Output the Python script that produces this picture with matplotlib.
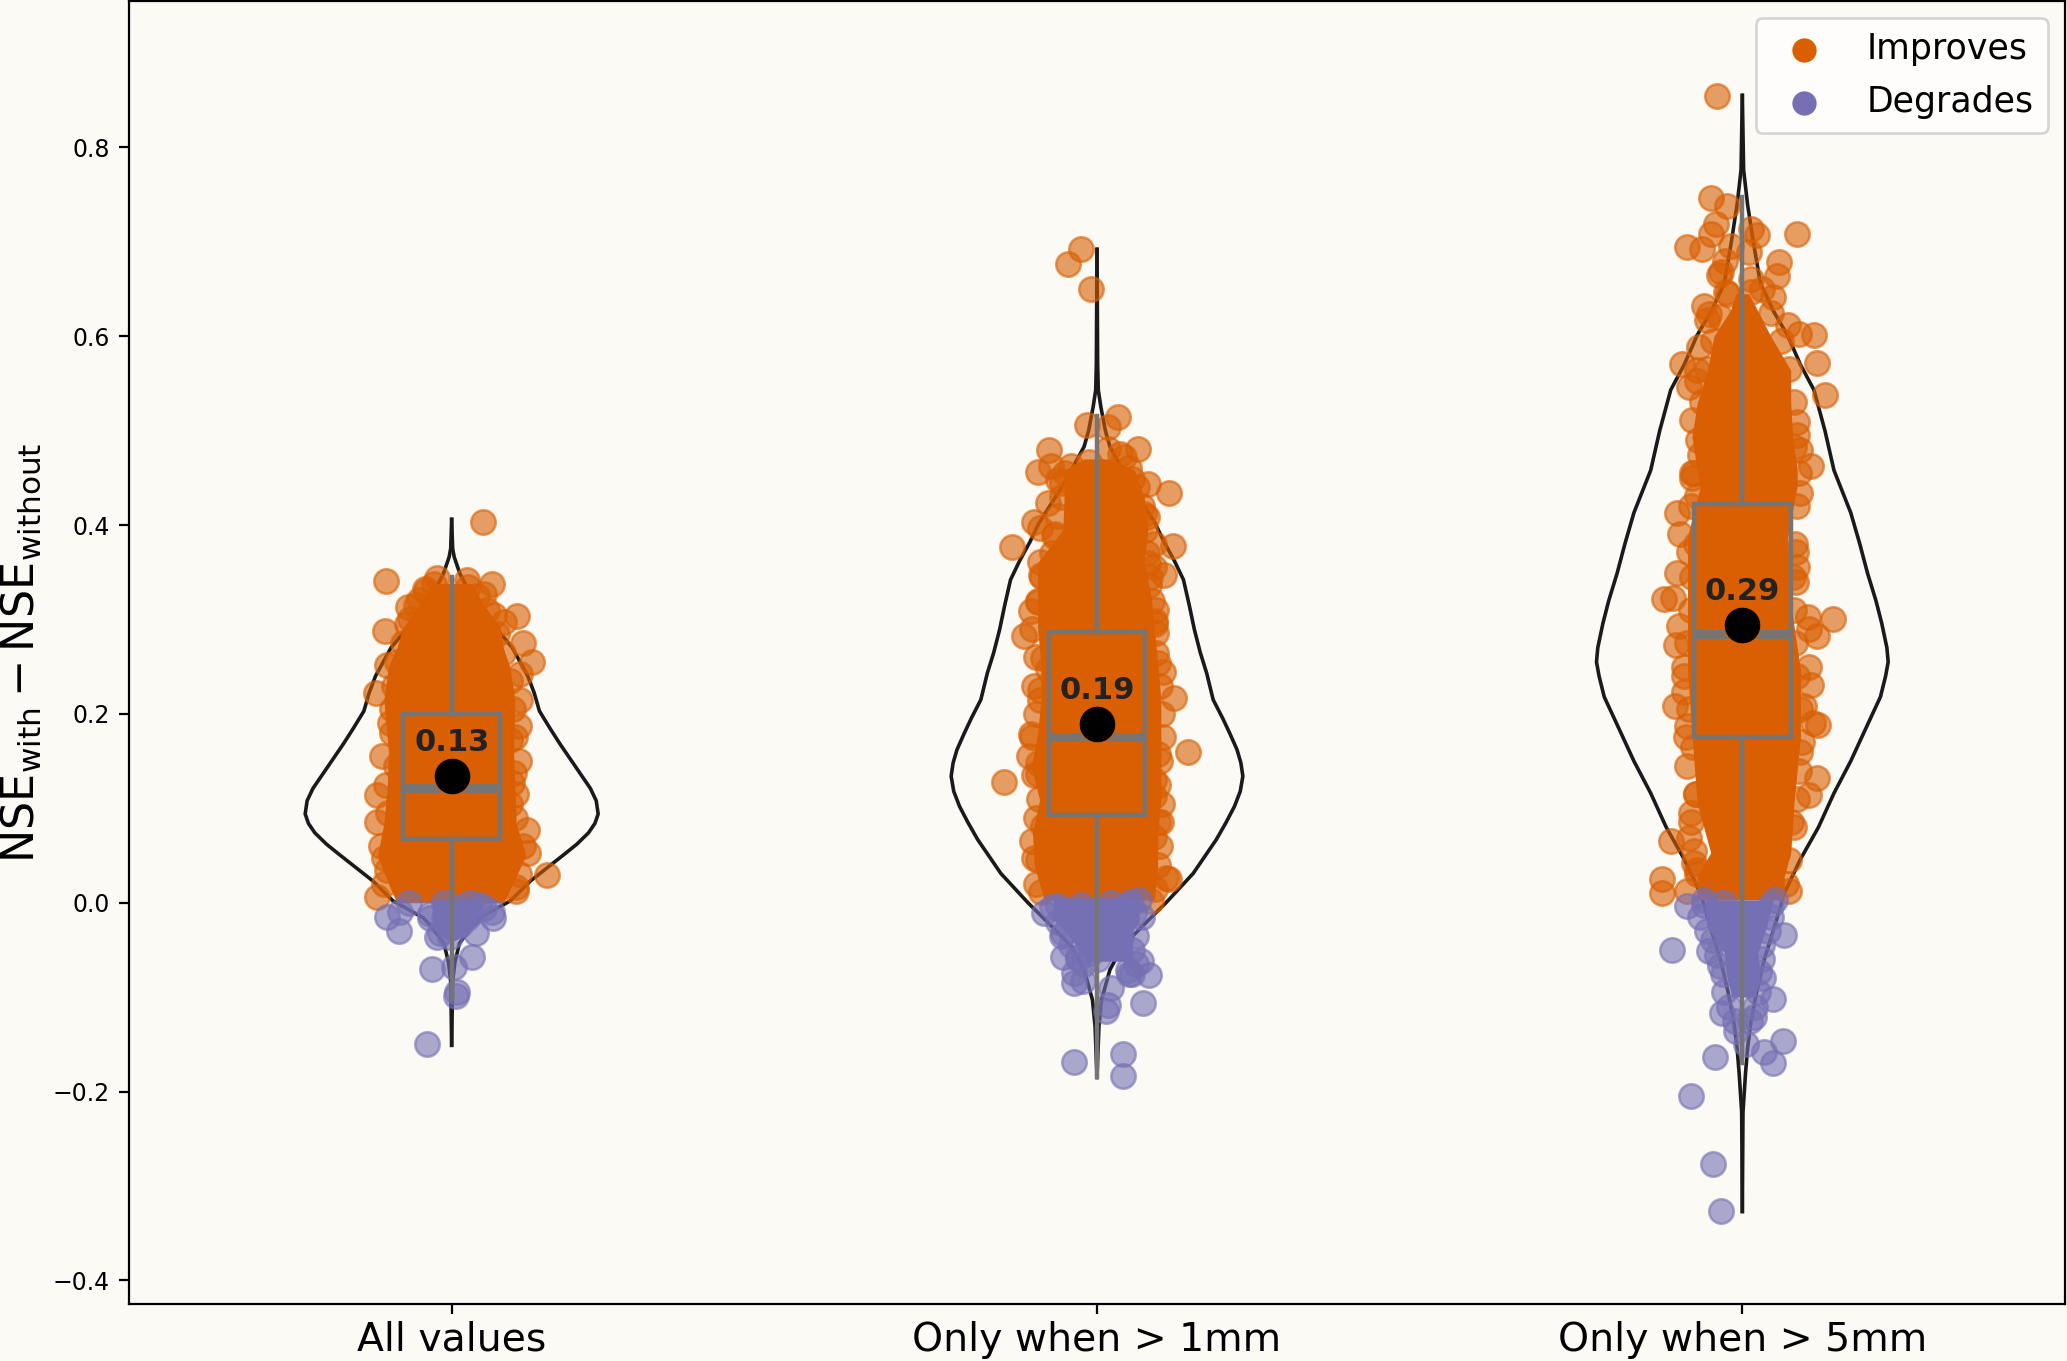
import matplotlib
matplotlib.use('Agg')
import matplotlib.pyplot as plt
import numpy as np

labels = ['All values', 'Only when > 1mm', 'Only when > 5mm']
means = [0.134, 0.189, 0.294]
mean_text = ['0.13', '0.19', '0.29']
q1 = [0.068, 0.093, 0.175]
medians = [0.122, 0.175, 0.285]
q3 = [0.200, 0.287, 0.422]
whisker_low = [-0.102, -0.185, -0.170]
whisker_high = [0.345, 0.515, 0.747]

# violin outlines: value and half width
violin1_y = [0.406, 0.375, 0.366, 0.348, 0.329, 0.309, 0.270, 0.240, 0.222, 0.203, 0.184, 0.168, 0.152, 0.136, 0.121,
             0.108, 0.094, 0.084, 0.074, 0.062, 0.051, 0.023, 0.002, -0.016, -0.024, -0.043, -0.063, -0.083, -0.151]
violin1_w = [0.0, 0.0015, 0.004, 0.013, 0.028, 0.047, 0.094, 0.118, 0.128, 0.136, 0.153, 0.168, 0.184, 0.200, 0.215,
             0.224, 0.227, 0.222, 0.212, 0.194, 0.174, 0.122, 0.091, 0.044, 0.033, 0.012, 0.005, 0.0015, 0.0]
violin2_y = [0.692, 0.571, 0.543, 0.525, 0.500, 0.483, 0.444, 0.402, 0.382, 0.362, 0.342, 0.315, 0.289, 0.265, 0.243, 0.215,
             0.195, 0.179, 0.162, 0.148, 0.134, 0.118, 0.102, 0.085, 0.067, 0.031, 0.000, -0.021, -0.046, -0.071, -0.103, -0.131, -0.185]
violin2_w = [0.0, 0.001, 0.002, 0.006, 0.013, 0.020, 0.051, 0.090, 0.104, 0.120, 0.134, 0.143, 0.151, 0.160, 0.170, 0.180,
             0.195, 0.206, 0.217, 0.223, 0.226, 0.222, 0.213, 0.200, 0.185, 0.149, 0.107, 0.076, 0.040, 0.020, 0.007, 0.003, 0.0]
violin3_y = [0.855, 0.776, 0.740, 0.700, 0.656, 0.628, 0.601, 0.570, 0.543, 0.500, 0.458, 0.413, 0.380, 0.349, 0.320, 0.296,
             0.270, 0.255, 0.240, 0.218, 0.190, 0.150, 0.116, 0.080, 0.046, 0.010, -0.025, -0.060, -0.095, -0.127, -0.155, -0.180, -0.222, -0.327]
violin3_w = [0.0, 0.002, 0.008, 0.017, 0.028, 0.047, 0.070, 0.090, 0.111, 0.128, 0.142, 0.168, 0.182, 0.194, 0.207, 0.216,
             0.224, 0.226, 0.222, 0.214, 0.195, 0.168, 0.142, 0.118, 0.090, 0.065, 0.050, 0.034, 0.022, 0.013, 0.008, 0.005, 0.001, 0.0]

# the middle of each cloud is saturated so single dots cant be read there,
# so these are the outlines of the solid part
core1_y = [0.338, 0.315, 0.292, 0.270, 0.250, 0.215, 0.160, 0.121, 0.084, 0.050, 0.015, 0.000]
core1_l = [-0.030, -0.050, -0.075, -0.085, -0.098, -0.105, -0.098, -0.100, -0.105, -0.115, -0.095, -0.085]
core1_r = [0.030, 0.050, 0.075, 0.080, 0.090, 0.098, 0.096, 0.098, 0.100, 0.115, 0.091, 0.081]
core2_y = [0.470, 0.458, 0.430, 0.395, 0.360, 0.324, 0.289, 0.254, 0.215, 0.179, 0.144, 0.109, 0.074, 0.039, 0.003]
core2_l = [-0.020, -0.051, -0.051, -0.053, -0.092, -0.092, -0.092, -0.087, -0.087, -0.092, -0.102, -0.089, -0.100, -0.097, -0.082]
core2_r = [0.020, 0.058, 0.073, 0.079, 0.073, 0.084, 0.089, 0.094, 0.099, 0.099, 0.099, 0.099, 0.094, 0.094, 0.089]
core3_y = [0.645, 0.628, 0.600, 0.564, 0.529, 0.493, 0.458, 0.441, 0.388, 0.317, 0.247, 0.176, 0.105, 0.053, 0.028, 0.003]
core3_l = [-0.010, -0.018, -0.044, -0.054, -0.070, -0.078, -0.070, -0.065, -0.085, -0.085, -0.085, -0.078, -0.070, -0.049, -0.070, -0.070]
core3_r = [0.010, 0.023, 0.044, 0.075, 0.075, 0.078, 0.085, 0.085, 0.070, 0.075, 0.090, 0.090, 0.080, 0.075, 0.065, 0.065]

low1_y = [0.003, -0.015, -0.032, -0.040]
low1_l = [-0.030, -0.030, -0.020, -0.005]
low1_r = [0.048, 0.040, 0.028, 0.005]
low2_y = [0.005, -0.018, -0.032, -0.052, -0.062]
low2_l = [-0.068, -0.068, -0.046, -0.026, -0.009]
low2_r = [0.062, 0.066, 0.054, 0.056, 0.056]
low3_y = [0.003, -0.025, -0.053, -0.078, -0.100]
low3_l = [-0.058, -0.055, -0.028, -0.024, -0.016]
low3_r = [0.048, 0.038, 0.024, 0.028, 0.020]

improves1_x = [0.049, -0.101, -0.103, -0.023, 0.024, 0.063, -0.028, -0.041, 0.026, 0.050, -0.051, -0.067, 0.065,
               0.081, 0.101, 0.110, 0.125, -0.069, -0.100, 0.106, -0.118, 0.106, -0.093, 0.104, -0.093, 0.091,
               -0.087, 0.096, -0.116, 0.094, 0.091, -0.115, 0.116, 0.119, -0.105, 0.148, -0.116, 0.099,
               -0.105, -0.100, -0.110, -0.098, -0.102, -0.108, -0.095, -0.090, -0.085, -0.075, -0.065, -0.055, -0.040,
               0.100, 0.105, 0.110, 0.098, 0.100, 0.104, 0.098, 0.095, 0.090, 0.080, 0.070, 0.055, 0.040]
improves1_y = [0.403, 0.341, 0.288, 0.344, 0.342, 0.338, 0.338, 0.332, 0.334, 0.327, 0.321, 0.313, 0.305,
               0.297, 0.304, 0.275, 0.255, 0.295, 0.252, 0.242, 0.222, 0.215, 0.205, 0.187, 0.180, 0.172,
               0.145, 0.137, 0.114, 0.127, 0.105, 0.085, 0.077, 0.053, 0.047, 0.029, 0.006, 0.017,
               0.020, 0.035, 0.060, 0.095, 0.125, 0.155, 0.190, 0.230, 0.255, 0.275, 0.300, 0.315, 0.330,
               0.012, 0.030, 0.060, 0.090, 0.115, 0.150, 0.175, 0.205, 0.235, 0.265, 0.285, 0.310, 0.325]
degrades1_x = [-0.100, -0.082, -0.066, -0.080, -0.033, -0.012, 0.008, 0.029, 0.042, 0.063, 0.064, 0.037, -0.023, -0.018,
               -0.007, 0.013, 0.024, -0.002, 0.029, -0.033, -0.012, 0.003, 0.050, 0.032, 0.003, -0.031, 0.008, 0.007, -0.038]
degrades1_y = [-0.015, -0.030, 0.000, -0.010, -0.012, 0.000, -0.005, 0.000, -0.002, -0.010, -0.016, -0.032, -0.036, -0.032,
               -0.024, -0.024, -0.016, -0.036, -0.012, -0.016, -0.016, -0.014, -0.006, -0.058, -0.068, -0.070, -0.095, -0.099, -0.150]

improves2_x = [-0.025, -0.045, -0.010, -0.016, 0.033, 0.017, 0.017, 0.063, -0.075, -0.072, -0.092, -0.040, -0.061, -0.012, 0.042,
               0.055, 0.079, 0.111, -0.076, 0.073, -0.097, -0.089, -0.066, 0.078, -0.131, 0.088, 0.117, -0.089, 0.079, 0.089,
               0.104, -0.087, 0.081, -0.092, -0.102, 0.091, 0.090, -0.113, 0.091, -0.084, 0.094, 0.102, -0.076, -0.097, -0.089,
               0.119, -0.102, -0.144, 0.141, 0.094, -0.092, -0.092, 0.089, 0.089, 0.099, -0.084, 0.089, -0.097, 0.112, 0.107,
               -0.087, 0.084,
               -0.095, -0.092, -0.100, -0.095, -0.090, -0.098, -0.105, -0.100, -0.095, -0.088, -0.095, -0.100, -0.092, -0.085,
               -0.070, -0.065, -0.060, -0.055, -0.055, -0.050,
               0.090, 0.095, 0.098, 0.095, 0.100, 0.095, 0.098, 0.102, 0.100, 0.098, 0.092, 0.090, 0.085, 0.082,
               0.078, 0.075, 0.070, 0.062, 0.050, 0.035]
improves2_y = [0.692, 0.676, 0.650, 0.506, 0.514, 0.504, 0.481, 0.481, 0.479, 0.462, 0.456, 0.463, 0.448, 0.467, 0.472,
               0.449, 0.443, 0.434, 0.423, 0.412, 0.403, 0.397, 0.388, 0.409, 0.377, 0.380, 0.378, 0.361, 0.360, 0.356,
               0.347, 0.347, 0.337, 0.319, 0.309, 0.310, 0.298, 0.283, 0.286, 0.259, 0.254, 0.244, 0.247, 0.230, 0.215,
               0.217, 0.179, 0.128, 0.160, 0.158, 0.148, 0.136, 0.130, 0.113, 0.085, 0.081, 0.070, 0.047, 0.025, 0.026,
               0.011, 0.002,
               0.020, 0.045, 0.065, 0.090, 0.110, 0.135, 0.155, 0.175, 0.200, 0.225, 0.260, 0.290, 0.320, 0.345,
               0.370, 0.390, 0.410, 0.430, 0.445, 0.455,
               0.015, 0.040, 0.060, 0.085, 0.105, 0.125, 0.150, 0.175, 0.200, 0.230, 0.265, 0.295, 0.320, 0.345,
               0.370, 0.395, 0.420, 0.440, 0.460, 0.475]
degrades2_x = [-0.082, -0.053, -0.053, -0.030, -0.035, -0.035, -0.022, 0.022, 0.017, 0.014, 0.071, 0.081, 0.068, 0.050, 0.048,
               0.001, -0.009, 0.037, -0.036, 0.041, 0.041, 0.058, 0.053, -0.061, -0.025, 0.022, 0.048,
               -0.070, -0.060, -0.055, -0.040, -0.030, -0.020, 0.065, 0.070, 0.060, 0.055, 0.060, 0.055]
degrades2_y = [-0.011, -0.032, -0.057, -0.057, -0.074, -0.085, -0.083, -0.090, -0.108, -0.115, -0.106, -0.077, -0.062, -0.076, -0.071,
               -0.060, -0.053, -0.036, -0.169, -0.160, -0.184, -0.011, 0.001, -0.003, -0.002, 0.000, -0.002,
               -0.005, -0.020, -0.035, -0.045, -0.060, -0.065, 0.003, -0.015, -0.035, -0.050, -0.065, -0.075]

improves3_x = [-0.039, -0.049, -0.023, -0.041, 0.013, 0.022, 0.084, -0.049, -0.086, -0.062, -0.018, 0.010, 0.057, -0.027, -0.033,
               -0.036, 0.053, 0.013, -0.026, 0.013, 0.048, -0.059, -0.052, -0.055, 0.070, 0.088, 0.111, -0.067, -0.093, 0.115,
               -0.070, -0.083, -0.070, 0.128, 0.085, -0.078, 0.080, 0.090, 0.106, -0.078, -0.065, -0.078, 0.090, -0.070, -0.102,
               -0.096, 0.083, -0.083, 0.085, -0.101, 0.083, -0.121, -0.108, 0.101, 0.141, 0.116, 0.103, -0.098, -0.103, 0.103,
               0.106, -0.090, -0.090, -0.105, 0.096, 0.117, 0.109, -0.085, -0.077, 0.090, 0.116, 0.103, -0.072, -0.080, 0.075,
               -0.083, -0.111, 0.054, -0.075, -0.124, -0.124, -0.085, 0.072, -0.070,
               -0.070, -0.075, -0.080, -0.072, -0.085, -0.088, -0.082, -0.090, -0.085, -0.080, -0.078, -0.072, -0.080, -0.075,
               -0.068, -0.062, -0.055, -0.045, -0.035, -0.022,
               0.068, 0.072, 0.080, 0.085, 0.088, 0.092, 0.090, 0.085, 0.082, 0.080, 0.078, 0.082, 0.085, 0.088,
               0.085, 0.080, 0.072, 0.060, 0.045, 0.030]
improves3_y = [0.854, 0.746, 0.738, 0.719, 0.713, 0.707, 0.708, 0.708, 0.694, 0.692, 0.695, 0.689, 0.679, 0.680, 0.668,
               0.665, 0.664, 0.661, 0.647, 0.647, 0.641, 0.632, 0.624, 0.617, 0.612, 0.602, 0.601, 0.589, 0.571, 0.572,
               0.564, 0.546, 0.553, 0.538, 0.509, 0.511, 0.483, 0.479, 0.462, 0.455, 0.474, 0.450, 0.434, 0.431, 0.413,
               0.391, 0.371, 0.371, 0.356, 0.349, 0.340, 0.322, 0.323, 0.303, 0.301, 0.283, 0.290, 0.293, 0.273, 0.250,
               0.231, 0.250, 0.223, 0.208, 0.208, 0.188, 0.190, 0.187, 0.165, 0.160, 0.132, 0.114, 0.115, 0.095, 0.085,
               0.069, 0.065, 0.053, 0.042, 0.025, 0.010, 0.012, 0.012, 0.035,
               0.030, 0.055, 0.085, 0.115, 0.145, 0.175, 0.205, 0.240, 0.275, 0.310, 0.345, 0.380, 0.420, 0.455,
               0.490, 0.530, 0.565, 0.595, 0.620, 0.645,
               0.020, 0.045, 0.080, 0.110, 0.140, 0.170, 0.205, 0.240, 0.275, 0.310, 0.345, 0.380, 0.420, 0.455,
               0.495, 0.530, 0.565, 0.595, 0.625, 0.650]
degrades3_x = [-0.085, 0.065, -0.109, -0.052, -0.034, 0.026, 0.048, -0.031, -0.010, 0.005, 0.034, 0.063, 0.048, -0.043, -0.079,
               -0.046, -0.033, 0.044, -0.059, -0.028, 0.018,
               -0.060, -0.065, -0.055, -0.045, -0.040, -0.030, -0.028, -0.020, -0.012,
               0.050, 0.045, 0.040, 0.030, 0.030, 0.032, 0.025, 0.020, 0.012]
degrades3_y = [-0.004, -0.034, -0.050, -0.051, -0.067, -0.073, -0.102, -0.117, -0.136, -0.150, -0.158, -0.146, -0.170, -0.163, -0.205,
               -0.277, -0.326, -0.002, -0.002, 0.000, -0.121,
               0.003, -0.015, -0.030, -0.040, -0.055, -0.075, -0.095, -0.110, -0.125,
               0.003, -0.015, -0.030, -0.045, -0.060, -0.080, -0.095, -0.110, -0.125]

violins = [(violin1_y, violin1_w), (violin2_y, violin2_w), (violin3_y, violin3_w)]
cores = [(core1_y, core1_l, core1_r), (core2_y, core2_l, core2_r), (core3_y, core3_l, core3_r)]
lows = [(low1_y, low1_l, low1_r), (low2_y, low2_l, low2_r), (low3_y, low3_l, low3_r)]
improves = [(improves1_x, improves1_y), (improves2_x, improves2_y), (improves3_x, improves3_y)]
degrades = [(degrades1_x, degrades1_y), (degrades2_x, degrades2_y), (degrades3_x, degrades3_y)]

orange = '#d95f02'
purple = '#7570b3'
grey = '#757575'
bg = '#fbfaf5'

fig = plt.figure(figsize=(10.335, 6.805), dpi=200, facecolor=bg)
ax = fig.add_axes([129 / 2067, 1 - 1304 / 1361, (2065 - 129) / 2067, (1304 - 1) / 1361], facecolor=bg)

for i in range(3):
    y, w = violins[i]
    ax.plot(i - np.array(w), y, color='#1a1a1a', lw=1.3, zorder=1)
    ax.plot(i + np.array(w), y, color='#1a1a1a', lw=1.3, zorder=1)

    y, l, r = cores[i]
    ax.fill_betweenx(y, i + np.array(l), i + np.array(r), color=orange, lw=0, zorder=2)
    x, y = improves[i]
    ax.scatter(i + np.array(x), y, s=78, color=orange, alpha=0.6, lw=0.9, zorder=3)

    y, l, r = lows[i]
    ax.fill_betweenx(y, i + np.array(l), i + np.array(r), color=purple, lw=0, zorder=4)
    x, y = degrades[i]
    ax.scatter(i + np.array(x), y, s=78, color=purple, alpha=0.6, lw=0.9, zorder=5)

bp = ax.boxplot([[whisker_low[i], q1[i], medians[i], q3[i], whisker_high[i]] for i in range(3)],
                positions=[0, 1, 2], widths=0.15, whis=(0, 100), showcaps=False, showfliers=False,
                patch_artist=True, zorder=6,
                boxprops=dict(facecolor='none', edgecolor=grey, lw=1.6),
                whiskerprops=dict(color=grey, lw=1.6),
                medianprops=dict(color=grey, lw=3.2))

ax.scatter([0, 1, 2], means, s=175, color='black', edgecolor=orange, lw=0.4, zorder=8)
for i in range(3):
    ax.text(i, means[i] + 0.036, mean_text[i], ha='center', va='center', fontsize=11,
            fontweight='bold', color='#222222', zorder=9)

ax.scatter([], [], s=60, color=orange, label='Improves')
ax.scatter([], [], s=60, color=purple, label='Degrades')
ax.legend(loc='upper right', fontsize=12.5, labelspacing=0.55)

ax.set_xlim(-0.5, 2.5)
ax.set_ylim(-0.425, 0.955)
ax.set_xticks([0, 1, 2])
ax.set_xticklabels(labels, fontsize=14.2)
ax.tick_params(axis='x', pad=2.5)
ax.set_yticks([-0.4, -0.2, 0.0, 0.2, 0.4, 0.6, 0.8])
ax.tick_params(axis='y', labelsize=8.5)
ax.set_ylabel(r'$\mathrm{NSE_{with} - NSE_{without}}$', fontsize=16)
ax.yaxis.set_label_coords(-0.0445, 0.5)

plt.savefig('out.png', dpi=200, facecolor=bg)
